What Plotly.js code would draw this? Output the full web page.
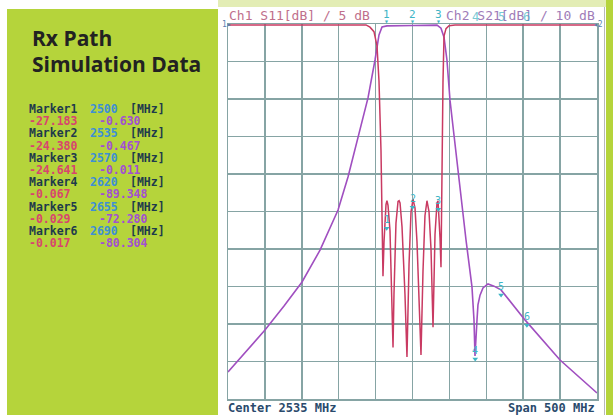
<!DOCTYPE html>
<html>
<head>
<meta charset="utf-8">
<script src="https://cdn.plot.ly/plotly-3.0.1.min.js"></script>
<style>html,body{margin:0;padding:0;background:#fff;}#chart{width:613px;height:415px;}</style>
</head>
<body>
<div id="chart"></div>
<script>
// ---- data (MHz / dB) ----
const freqS21 = [2285, 2309.4, 2335.1, 2360.9, 2385.3, 2409.7, 2423.2, 2434.1, 2447.6, 2461.2, 2474.7, 2484.2, 2489.6, 2493.7, 2500.4, 2535.7, 2568.2, 2573.6, 2577.7, 2581.7, 2585.8, 2591.2, 2599.4, 2607.5, 2615.6, 2618.3, 2619.7, 2621.0, 2622.4, 2623.7, 2626.5, 2630.5, 2637.3, 2645.4, 2654.9, 2687.4, 2734.9, 2785];
const s21 = [-92.8, -87.2, -81.6, -75.2, -68.8, -60.3, -54.4, -49.6, -40.8, -30.1, -19.7, -9.6, -2.9, -0.8, -0.5, -0.4, -0.3, -1.1, -3.5, -9.6, -20.3, -29.6, -44.3, -57.6, -70.1, -78.9, -88.5, -85.1, -78.9, -74.9, -72.3, -70.4, -69.3, -69.9, -70.9, -78.9, -89.6, -98.4];

const freqS11 = [2285, 2472.0, 2477.4, 2482.8, 2486.9, 2489.6, 2492.3, 2495.0, 2496.4, 2497.7, 2499.1, 2500.4, 2501.8, 2504.5, 2507.2, 2508.6, 2509.9, 2512.6, 2515.4, 2516.8, 2518.1, 2520.8, 2524.8, 2527.5, 2530.3, 2533.0, 2535.7, 2538.4, 2541.1, 2543.8, 2546.5, 2549.2, 2551.9, 2554.6, 2557.4, 2560.1, 2562.8, 2565.5, 2568.2, 2569.6, 2570.9, 2572.3, 2573.6, 2575.0, 2576.3, 2577.7, 2580.4, 2584.5, 2592.6, 2785];
const s11 = [0, 0, -0.3, -0.9, -2.8, -7.5, -16.8, -33.6, -29.0, -25.5, -24.0, -23.5, -24.1, -27.5, -36.0, -43.1, -36.0, -26.5, -23.6, -23.5, -23.8, -27.0, -36.0, -44.4, -32.0, -25.0, -23.3, -24.5, -29.0, -36.0, -44.1, -33.0, -25.5, -23.5, -25.0, -30.0, -40.4, -28.0, -23.8, -23.5, -25.5, -28.5, -32.4, -14.8, -7.7, -1.5, -0.5, -0.1, 0, 0];

const markerNames = ["Marker1", "Marker2", "Marker3", "Marker4", "Marker5", "Marker6"];
const markerFreq = [2500, 2535, 2570, 2620, 2655, 2690];
const markerS11 = [-27.183, -24.380, -24.641, -0.067, -0.029, -0.017];
const markerS21 = [-0.630, -0.467, -0.011, -89.348, -72.280, -80.304];

const headerLeft = "Ch1 S11[dB] / 5 dB";
const headerRight = "Ch2 S21[dB] / 10 dB";
const footerLeft = "Center 2535 MHz";
const footerRight = "Span 500 MHz";
const titleLines = ["Rx Path", "Simulation Data"];

// ---- geometry helpers (pixel -> paper) ----
const L = 228, T = 24, W = 369, H = 375;
const px = p => (p - L) / W;
const py = p => 1 - (p - T) / H;

const GREEN = "#b5d43b";
const RED = "#c93a62";
const PURPLE = "#a04fc0";
const TEAL = "#3fb5c6";
const MONO = "'DejaVu Sans Mono', 'Liberation Mono', monospace";

const traces = [
  {x: freqS21, y: s21, mode: "lines", line: {color: PURPLE, width: 1.6}, yaxis: "y", hoverinfo: "none"},
  {x: freqS11, y: s11, mode: "lines", line: {color: RED, width: 1.5}, yaxis: "y2", hoverinfo: "none"},
  {x: markerFreq.slice(0, 3), y: markerS11.slice(0, 3), mode: "markers", yaxis: "y2",
   marker: {symbol: "triangle-down", size: 5, color: TEAL}, hoverinfo: "none", cliponaxis: false},
  {x: markerFreq.slice(3), y: markerS21.slice(3), mode: "markers", yaxis: "y",
   marker: {symbol: "triangle-down", size: 5, color: TEAL}, hoverinfo: "none", cliponaxis: false}
];

const shapes = [
  {type: "rect", xref: "paper", yref: "paper", x0: px(7), x1: px(218), y0: py(9), y1: py(416), fillcolor: GREEN, line: {width: 0}},
  {type: "rect", xref: "paper", yref: "paper", x0: px(218), x1: px(614), y0: py(-1), y1: py(7), fillcolor: "#e3edb5", line: {width: 0}},
  {type: "rect", xref: "paper", yref: "paper", x0: px(606), x1: px(614), y0: py(-1), y1: py(416), fillcolor: GREEN, line: {width: 0}},
  {type: "line", xref: "paper", yref: "paper", x0: px(604.5), x1: px(604.5), y0: py(7), y1: py(416), line: {color: "#b8b8b8", width: 1}}
];

const annotations = [];
function ann(o) { annotations.push(Object.assign({showarrow: false, xref: "paper", yref: "paper"}, o)); }

// left panel title
ann({x: px(30), y: py(38), text: "<b>" + titleLines[0] + "</b>", xanchor: "left", yanchor: "middle",
     font: {family: "'Open Sans', sans-serif", size: 21, color: "#222222"}});
ann({x: px(30), y: py(64), text: "<b>" + titleLines[1] + "</b>", xanchor: "left", yanchor: "middle",
     font: {family: "'Open Sans', sans-serif", size: 21, color: "#222222"}});

// marker listing
const rowH = 12.2;
for (let i = 0; i < 6; i++) {
  const y1 = 109 + i * 2 * rowH, y2 = y1 + rowH;
  const f = {family: MONO, size: 11.5};
  ann({x: px(27), y: py(y1), text: "<b>" + markerNames[i] + "</b>", xanchor: "left", yanchor: "middle", font: Object.assign({}, f, {color: "#1e3a4c"})});
  ann({x: px(88), y: py(y1), text: "<b>" + markerFreq[i] + "</b>", xanchor: "left", yanchor: "middle", font: Object.assign({}, f, {color: "#3d8fd6"})});
  ann({x: px(128), y: py(y1), text: "<b>[MHz]</b>", xanchor: "left", yanchor: "middle", font: Object.assign({}, f, {color: "#1e3a4c"})});
  ann({x: px(27), y: py(y2), text: "<b>" + markerS11[i].toFixed(3) + "</b>", xanchor: "left", yanchor: "middle", font: Object.assign({}, f, {color: "#d8456e"})});
  ann({x: px(97), y: py(y2), text: "<b>" + markerS21[i].toFixed(3) + "</b>", xanchor: "left", yanchor: "middle", font: Object.assign({}, f, {color: "#a250d2"})});
}

// header / footer
ann({x: px(227), y: py(16), text: headerLeft, xanchor: "left", yanchor: "middle", font: {family: MONO, size: 13, color: "#c0708c"}});
ann({x: px(597), y: py(16), text: headerRight, xanchor: "right", yanchor: "middle", font: {family: MONO, size: 13, color: "#a07cb8"}});
ann({x: px(226), y: py(407.5), text: "<b>" + footerLeft + "</b>", xanchor: "left", yanchor: "middle", font: {family: MONO, size: 12, color: "#2a4a6c"}});
ann({x: px(597), y: py(407.5), text: "<b>" + footerRight + "</b>", xanchor: "right", yanchor: "middle", font: {family: MONO, size: 12, color: "#2a4a6c"}});

// reference position symbols
ann({x: px(220), y: py(24), text: "1▸", xanchor: "left", yanchor: "middle", font: {family: MONO, size: 8, color: "#5a7fb0"}});
ann({x: px(605), y: py(24), text: "◂2", xanchor: "right", yanchor: "middle", font: {family: MONO, size: 8, color: "#5a7fb0"}});

// marker digits on header and on curves
for (let i = 0; i < 6; i++) {
  annotations.push({x: markerFreq[i], xref: "x", y: py(i < 3 ? 14 : 17), yref: "paper", text: String(i + 1), showarrow: false,
    xanchor: "center", yanchor: "middle", opacity: i < 3 ? 1 : 0.7, font: {family: MONO, size: i < 3 ? 11 : 12, color: TEAL}});
  if (i < 3) {
    annotations.push({x: markerFreq[i], xref: "x", y: py(21.5), yref: "paper", text: "▾", showarrow: false,
      xanchor: "center", yanchor: "middle", font: {family: MONO, size: 8, color: TEAL}});
  }
  annotations.push({x: markerFreq[i], xref: "x", y: i < 3 ? markerS11[i] : markerS21[i], yref: i < 3 ? "y2" : "y",
    text: String(i + 1), showarrow: false, xanchor: "center", yanchor: "bottom", yshift: 1,
    font: {family: MONO, size: 10, color: TEAL}});
}

const layout = {
  width: 613, height: 415,
  margin: {l: L, r: 613 - L - W, t: T, b: 415 - T - H, pad: 0},
  paper_bgcolor: "#ffffff", plot_bgcolor: "#ffffff",
  showlegend: false,
  xaxis: {range: [2285, 2785], dtick: 50, tick0: 2285, showgrid: true, gridcolor: "#86a4a4", gridwidth: 1.5,
          showticklabels: false, ticks: "", zeroline: false, showline: true, mirror: true, linecolor: "#86a4a4", linewidth: 1.5, fixedrange: true},
  yaxis: {range: [-100, 0], dtick: 10, showgrid: true, gridcolor: "#86a4a4", gridwidth: 1.5,
          showticklabels: false, ticks: "", zeroline: false, showline: true, mirror: true, linecolor: "#86a4a4", linewidth: 1.5, fixedrange: true},
  yaxis2: {range: [-50, 0.12], overlaying: "y", side: "right", showgrid: false, showticklabels: false, ticks: "", zeroline: false, showline: false, fixedrange: true},
  shapes: shapes,
  annotations: annotations
};

Plotly.newPlot("chart", traces, layout, {displayModeBar: false, staticPlot: true});
</script>
</body>
</html>
